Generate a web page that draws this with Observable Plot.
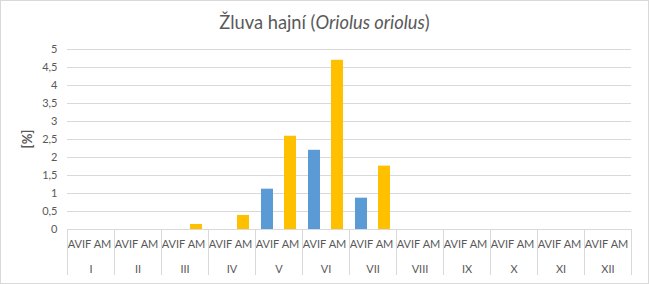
<!DOCTYPE html>
<html>
<head>
<meta charset="utf-8">
<script src="https://cdn.jsdelivr.net/npm/d3@7"></script>
<script src="https://cdn.jsdelivr.net/npm/@observablehq/plot@0.6"></script>
<style>
  body { margin: 0; background: #fff; }
  #wrap { position: relative; width: 649px; height: 284px; background: #fff; overflow: hidden; font-family: Lato, "Open Sans", sans-serif; }
  #border { position: absolute; left: 0; top: 0; width: 649px; height: 284px; box-sizing: border-box; border: 1px solid #d9d9d9; pointer-events: none; }
  #title { position: absolute; left: 0; top: 10px; width: 649px; text-align: center; font-size: 18.3px; color: #595959; line-height: 24px; }
  #plot { position: absolute; left: 0; top: 40px; }
</style>
</head>
<body>
<div id="wrap">
  <div id="title">Žluva hajní (<i>Oriolus oriolus</i>)</div>
  <div id="plot"></div>
  <div id="border"></div>
</div>
<script>
const months = ["I", "II", "III", "IV", "V", "VI", "VII", "VIII", "IX", "X", "XI", "XII"];
const series = ["AVIF", "AM"];
const avifValues = [0, 0, 0, 0, 1.12, 2.2, 0.87, 0, 0, 0, 0, 0];
const amValues = [0, 0, 0.14, 0.39, 2.59, 4.7, 1.76, 0, 0, 0, 0, 0];
const yTicks = [0, 0.5, 1, 1.5, 2, 2.5, 3, 3.5, 4, 4.5, 5];
const yLabel = "[%]";
const colors = ["#5B9BD5", "#FFC000"];

const data = [];
months.forEach((m, i) => {
  data.push({month: m, series: "AVIF", value: avifValues[i]});
  data.push({month: m, series: "AM", value: amValues[i]});
});

const W = 649, H = 244;
const chart = Plot.plot({
  width: W,
  height: H,
  marginLeft: 64,
  marginRight: 16,
  marginTop: 9,
  marginBottom: 55,
  style: {fontSize: "11px", fontFamily: "Lato, 'Open Sans', sans-serif", color: "#595959", background: "transparent"},
  fx: {domain: months, padding: 0},
  x: {domain: series, paddingInner: 0.5, paddingOuter: 0.25},
  y: {domain: [0, 5]},
  color: {domain: series, range: colors},
  marks: [
    Plot.gridY(yTicks, {stroke: "#d9d9d9", strokeOpacity: 1}),
    Plot.ruleY([0], {stroke: "#d9d9d9"}),
    Plot.barY(data, {fx: "month", x: "series", y: "value", fill: "series"}),
    Plot.axisY({ticks: yTicks, tickSize: 0, tickPadding: 10, tickFormat: d => String(d).replace(".", ","),
      label: null, fill: "#595959"}),
    Plot.axisX({tickSize: 0, tickPadding: 11, label: null, fill: "#595959"}),
    Plot.axisFx({anchor: "bottom", tickSize: 0, tickPadding: 36, label: null, fill: "#595959"})
  ]
});
document.getElementById("plot").appendChild(chart);

// month separators on the category axis, from the library's fx scale
const fx = chart.scale("fx");
const yS = chart.scale("y");
const y0 = yS.apply(0);
const svg = d3.select(chart);
const edges = months.map(m => fx.apply(m));
edges.push(fx.apply(months[months.length - 1]) + fx.bandwidth);
svg.append("g").selectAll("line").data(edges).join("line")
  .attr("x1", d => d).attr("x2", d => d)
  .attr("y1", y0).attr("y2", y0 + 46)
  .attr("stroke", "#d9d9d9").attr("shape-rendering", "crispEdges");
// rotated y label
const yMid = (yS.apply(0) + yS.apply(5)) / 2;
svg.append("text")
  .attr("transform", `translate(32,${yMid}) rotate(-90)`)
  .attr("text-anchor", "middle")
  .attr("font-weight", "bold")
  .attr("font-size", "13px")
  .attr("fill", "#595959")
  .text(yLabel);
</script>
</body>
</html>
